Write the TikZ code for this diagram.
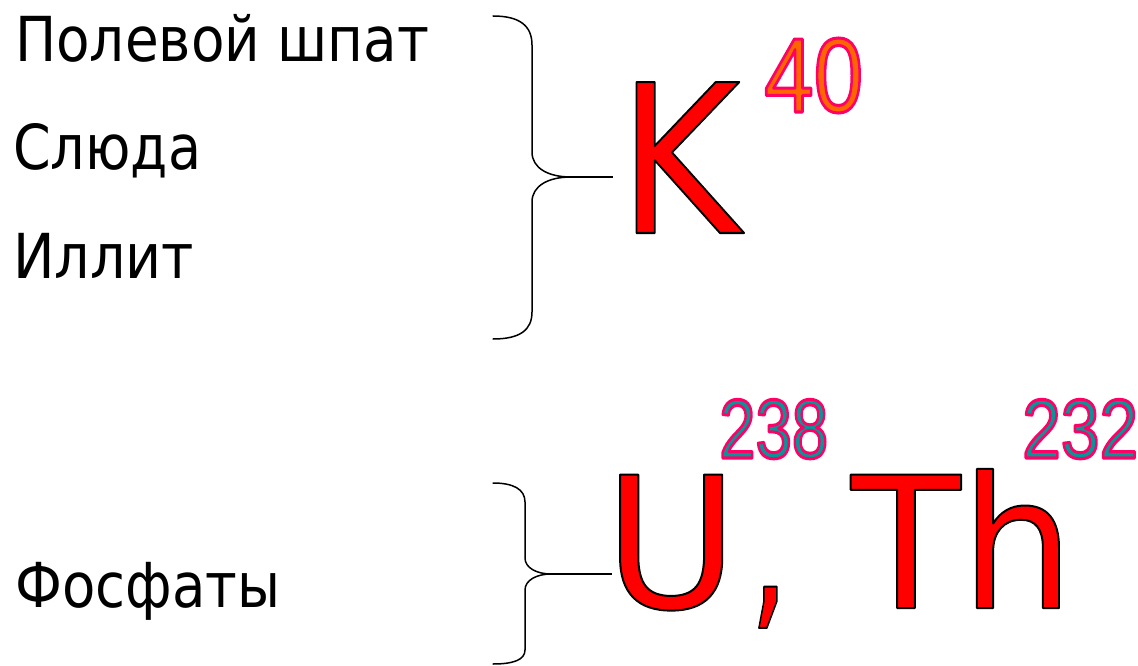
\documentclass[tikz,border=0pt]{standalone}
\usepackage{fontspec}
\setmainfont{DejaVu Sans}
\newfontfamily\narrowfont{Liberation Sans}
\usepackage{graphicx}
\definecolor{isoorange}{RGB}{255,102,0}
\definecolor{isoteal}{RGB}{0,153,153}
\definecolor{isopink}{RGB}{255,0,102}
\definecolor{bigred}{RGB}{255,0,0}
% fill + stroke text (#1: stroke rgb, #2: stroke width, #3: text)
\newcommand\strokedtext[3]{\special{pdf:code q #1 RG #2 w 1 j 2 Tr}#3\special{pdf:code Q}}
\tikzset{
  lbl/.style={anchor=base west, inner sep=0pt, font=\fontsize{62}{62}\selectfont},
  big/.style={anchor=base west, inner sep=0pt, font=\fontsize{183}{183}\selectfont},
  bigK/.style={anchor=base west, inner sep=0pt, font=\fontsize{207}{207}\selectfont},
  commafont/.style={anchor=base west, inner sep=0pt, font=\fontsize{172}{172}\selectfont},
  isosup/.style={anchor=base west, inner sep=0pt, font=\narrowfont\fontsize{106}{106}\selectfont},
  isosupsmall/.style={anchor=base west, inner sep=0pt, font=\narrowfont\fontsize{84}{84}\selectfont},
  brace/.style={line width=1.5pt, black, line cap=round}
}
\begin{document}
\begin{tikzpicture}[x=1pt,y=-1pt]
\useasboundingbox (0,0) rectangle (1138,666);
% left labels
\node[lbl] (t1) at (15,62) {\resizebox{414pt}{\height}{Полевой шпат}};
\node[lbl] (t2) at (13,170) {\resizebox{188pt}{\height}{Слюда}};
\node[lbl] (t3) at (13,278) {\resizebox{181pt}{\height}{Иллит}};
\node[lbl] (t4) at (15,607) {\resizebox{265pt}{\height}{Фосфаты}};
% big symbols
\node[bigK] (K) at (618,233) {\resizebox{122pt}{\height}{\textcolor{bigred}{\strokedtext{0 0 0}{2}{K}}}};
\node[big] (U) at (604,608) {\textcolor{bigred}{\strokedtext{0 0 0}{2}{U}}};
\node[commafont] (comma) at (749,608) {\resizebox{40pt}{\height}{\textcolor{bigred}{\strokedtext{0 0 0}{2}{,}}}};
\node[big] (Th) at (851,608) {\resizebox{223pt}{\height}{\textcolor{bigred}{\strokedtext{0 0 0}{2}{Th}}}};
% superscripts
\node[isosup] (s40) at (764,112) {\resizebox{99pt}{\height}{\textcolor{isoorange}{\strokedtext{1 0 0.4}{3}{40}}}};
\node[isosupsmall] (s238) at (719,458) {\resizebox{109pt}{\height}{\textcolor{isoteal}{\strokedtext{1 0 0.4}{3}{238}}}};
\node[isosupsmall] (s232) at (1022,458) {\resizebox{116pt}{\height}{\textcolor{isoteal}{\strokedtext{1 0 0.4}{3}{232}}}};
% braces
\coordinate (tipK) at (571,177);
\coordinate (endK) at (613,177);
\draw[brace] (493,16) .. controls (520,16) and (532,26) .. (532,45) -- (532,152)
   .. controls (532,168) and (548,177) .. (tipK)
   .. controls (548,177) and (532,186) .. (532,202) -- (532,312)
   .. controls (532,330) and (520,339) .. (493,339);
\draw[line width=1.2pt] (tipK) -- (endK);
\coordinate (tipU) at (551,574);
\coordinate (endU) at (612,574);
\draw[brace] (493,483) .. controls (513,483) and (525,489) .. (525,502) -- (525,558)
   .. controls (525,568) and (537,574) .. (tipU)
   .. controls (537,574) and (525,580) .. (525,590) -- (525,650)
   .. controls (525,660) and (513,664) .. (493,664);
\draw[line width=1.2pt] (tipU) -- (endU);
\end{tikzpicture}
\end{document}
